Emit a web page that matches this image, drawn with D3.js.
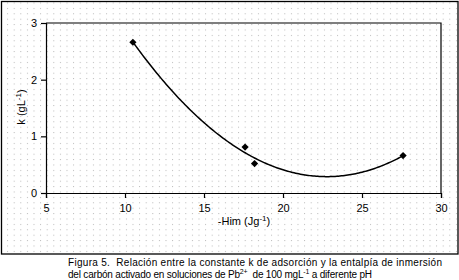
<!DOCTYPE html>
<html><head><meta charset="utf-8">
<script src="https://cdn.jsdelivr.net/npm/d3@7"></script>
<style>body{margin:0;background:#fff}svg{display:block}text{font-family:"Liberation Sans",Arial,sans-serif;fill:#000}.cap{white-space:pre}</style>
</head><body>
<script>
const himValues = [10.5, 17.6, 18.2, 27.6];
const kValues = [2.66, 0.81, 0.52, 0.66];
const xTicks = [5, 10, 15, 20, 25, 30];
const yTicks = [0, 1, 2, 3];
const captionLine1 = "Figura 5.  Relación entre la constante k de adsorción y la entalpía de inmersión";

const W = 459, H = 280;
const svg = d3.select("body").append("svg").attr("width", W).attr("height", H);

const defs = svg.append("defs");
const pat = defs.append("pattern").attr("id", "dots").attr("patternUnits", "userSpaceOnUse")
  .attr("width", 6.6).attr("height", 5.4).attr("x", 0.5).attr("y", 2.5);
pat.append("rect").attr("width", 1).attr("height", 1).attr("fill", "#b8b8b8");

svg.append("rect").attr("x", 1.5).attr("y", 1.5).attr("width", 456.5).attr("height", 252.5)
  .attr("fill", "url(#dots)").attr("stroke", "#000").attr("stroke-width", 1.3);

const x = d3.scaleLinear().domain([5, 30]).range([46, 441]);
const y = d3.scaleLinear().domain([0, 3]).range([193, 23]);

// plot box top & right
svg.append("path").attr("d", `M${x(5)},${y(3)}H${x(30)}V${y(0)}`).attr("fill", "none").attr("stroke", "#000").attr("stroke-width", 1.2);

const xAxis = svg.append("g").attr("transform", `translate(0,${y(0)})`)
  .call(d3.axisBottom(x).tickValues(xTicks).tickSize(5).tickPadding(6).tickFormat(d3.format("d")));
const yAxis = svg.append("g").attr("transform", `translate(${x(5)},0)`)
  .call(d3.axisLeft(y).tickValues(yTicks).tickSize(5).tickPadding(4).tickFormat(d3.format("d")));
[xAxis, yAxis].forEach(a => {
  a.select(".domain").attr("stroke", "#000").attr("stroke-width", 1.2);
  a.selectAll(".tick line").attr("stroke", "#000").attr("stroke-width", 1.2);
  a.selectAll("text").attr("font-size", 11).attr("font-family", "'Liberation Sans',Arial,sans-serif").attr("fill", "#000");
});

// quadratic least-squares trendline from the data
function polyfit2(xs, ys) {
  const n = xs.length; let S = [0,0,0,0,0], T = [0,0,0];
  for (let i = 0; i < n; i++) {
    for (let p = 0; p < 5; p++) S[p] += Math.pow(xs[i], p);
    for (let p = 0; p < 3; p++) T[p] += ys[i] * Math.pow(xs[i], p);
  }
  const M = [[S[0],S[1],S[2],T[0]],[S[1],S[2],S[3],T[1]],[S[2],S[3],S[4],T[2]]];
  for (let c = 0; c < 3; c++) {
    for (let r = c + 1; r < 3; r++) {
      const f = M[r][c] / M[c][c];
      for (let k = c; k < 4; k++) M[r][k] -= f * M[c][k];
    }
  }
  const b = [0,0,0];
  for (let r = 2; r >= 0; r--) {
    let s = M[r][3];
    for (let k = r + 1; k < 3; k++) s -= M[r][k] * b[k];
    b[r] = s / M[r][r];
  }
  return b;
}
const coef = polyfit2(himValues, kValues);
const xs = d3.range(d3.min(himValues), d3.max(himValues) + 0.001, 0.1);
const line = d3.line().x(d => x(d)).y(d => y(coef[0] + coef[1]*d + coef[2]*d*d));
svg.append("path").attr("d", line(xs)).attr("fill", "none").attr("stroke", "#000").attr("stroke-width", 1.5);

svg.selectAll(".pt").data(himValues).enter().append("path")
  .attr("transform", (d, i) => `translate(${x(d)},${y(kValues[i])}) rotate(45)`)
  .attr("d", d3.symbol().type(d3.symbolSquare).size(26)).attr("fill", "#000");

// axis titles
const xt = svg.append("text").attr("x", 244).attr("y", 225).attr("text-anchor", "middle").attr("font-size", 11);
xt.append("tspan").text("-Him (Jg");
xt.append("tspan").attr("dy", -4).attr("font-size", 8).text("-1");
xt.append("tspan").attr("dy", 4).text(")");

const yt = svg.append("text").attr("transform", "translate(25,107) rotate(-90)").attr("text-anchor", "middle").attr("font-size", 11);
yt.append("tspan").text("k (gL");
yt.append("tspan").attr("dy", -4).attr("font-size", 8).text("-1");
yt.append("tspan").attr("dy", 4).text(")");

// caption
svg.append("text").attr("class", "cap").attr("x", 68).attr("y", 266).attr("font-size", 10)
  .attr("textLength", 374).attr("lengthAdjust", "spacing").text(captionLine1);
const c2 = svg.append("text").attr("class", "cap").attr("x", 68).attr("y", 278).attr("font-size", 10)
  .attr("textLength", 304).attr("lengthAdjust", "spacing");
c2.append("tspan").text("del carbón activado en soluciones de Pb");
c2.append("tspan").attr("dy", -4).attr("font-size", 7).text("2+");
c2.append("tspan").attr("dy", 4).text("  de 100 mgL");
c2.append("tspan").attr("dy", -4).attr("font-size", 7).text("-1");
c2.append("tspan").attr("dy", 4).text(" a diferente pH");
</script>
</body></html>
